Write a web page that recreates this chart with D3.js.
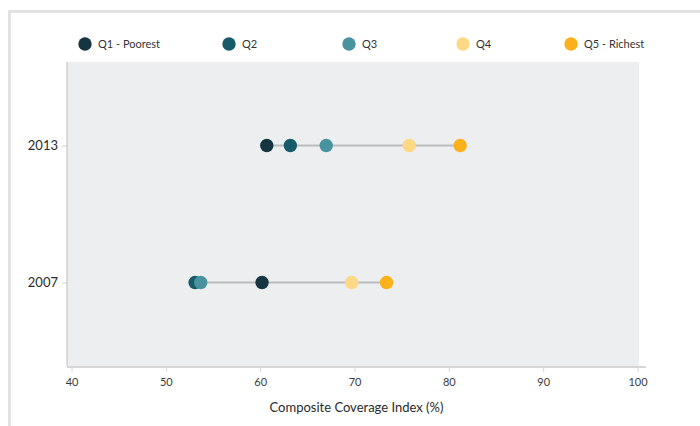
<!DOCTYPE html>
<html>
<head>
<meta charset="utf-8">
<script src="https://cdn.jsdelivr.net/npm/d3@7"></script>
<style>
  body { margin: 0; background: #fff; font-family: Lato, "Open Sans", sans-serif; }
  #frame { position: absolute; left: 8px; top: 10px; width: 760px; height: 500px;
           border: 3px solid #e2e2e2; box-sizing: border-box; }
  #chart { position: absolute; left: 0; top: 0; }
</style>
</head>
<body>
<div id="frame"></div>
<div id="chart"></div>
<script>
var years = ["2013", "2007"];
var quintiles = ["Q1 - Poorest", "Q2", "Q3", "Q4", "Q5 - Richest"];
var colors = ["#153641", "#175b6b", "#4993a0", "#fdd985", "#fbb11c"];
var q1 = [60.7, 60.2];
var q2 = [63.2, 53.1];
var q3 = [67.0, 53.7];
var q4 = [75.8, 69.7];
var q5 = [81.2, 73.4];
var xTicks = [40, 50, 60, 70, 80, 90, 100];

var series = [q1, q2, q3, q4, q5];
var width = 700, height = 426;
var plot = {left: 67, right: 639, top: 62, bottom: 366};

var svg = d3.select("#chart").append("svg")
  .attr("width", width)
  .attr("height", height);

var x = d3.scaleLinear().domain([40, 100]).range([71.5, 637.5]);
var y = d3.scalePoint().domain(years).range([plot.top, plot.bottom]).padding(0.61);

// plot background
svg.append("rect")
  .attr("x", plot.left)
  .attr("y", plot.top)
  .attr("width", plot.right - plot.left)
  .attr("height", plot.bottom - plot.top)
  .attr("fill", "#edeef0");

// x axis
var xAxis = svg.append("g")
  .attr("transform", "translate(0," + (plot.bottom + 1) + ")")
  .call(d3.axisBottom(x).tickValues(xTicks).tickSize(5).tickPadding(6));
xAxis.select(".domain").remove();
xAxis.append("line")
  .attr("x1", plot.left).attr("x2", 646)
  .attr("stroke", "#d6d6d6").attr("stroke-width", 2);
xAxis.selectAll(".tick line").attr("stroke", "#d6d6d6");
xAxis.selectAll(".tick text")
  .attr("fill", "#3a3a3a")
  .style("font-family", "Lato, sans-serif")
  .style("font-size", "11px");

// y axis
var yAxis = svg.append("g")
  .attr("transform", "translate(" + plot.left + ",0)")
  .call(d3.axisLeft(y).tickSize(5).tickPadding(4));
yAxis.select(".domain").remove();
yAxis.append("line")
  .attr("y1", plot.top).attr("y2", plot.bottom)
  .attr("stroke", "#bdbdbd").attr("stroke-width", 1);
yAxis.selectAll(".tick line").attr("stroke", "#cfcfcf");
yAxis.selectAll(".tick text")
  .attr("fill", "#2a2a2a")
  .style("font-family", "Lato, sans-serif")
  .style("font-size", "13px");

// axis title
svg.append("text")
  .attr("x", (plot.left + 646) / 2)
  .attr("y", 412)
  .attr("text-anchor", "middle")
  .attr("fill", "#2a2a2a")
  .style("font-family", "Lato, sans-serif")
  .style("font-size", "13px")
  .text("Composite Coverage Index (%)");

// range lines
var rows = years.map(function(yr, i) {
  var vals = series.map(function(s) { return s[i]; });
  return {year: yr, min: d3.min(vals), max: d3.max(vals)};
});

svg.selectAll(".range")
  .data(rows)
  .enter().append("line")
  .attr("class", "range")
  .attr("x1", function(d) { return x(d.min); })
  .attr("x2", function(d) { return x(d.max); })
  .attr("y1", function(d) { return y(d.year); })
  .attr("y2", function(d) { return y(d.year); })
  .attr("stroke", "#bcbcbc")
  .attr("stroke-width", 2);

// dots
series.forEach(function(s, qi) {
  svg.selectAll(".dot" + qi)
    .data(s)
    .enter().append("circle")
    .attr("class", "dot" + qi)
    .attr("cx", function(d) { return x(d); })
    .attr("cy", function(d, i) { return y(years[i]); })
    .attr("r", 6.7)
    .attr("fill", colors[qi]);
});

// legend
var legendX = [85, 229, 349, 463, 571];
var legend = svg.selectAll(".legend")
  .data(quintiles)
  .enter().append("g")
  .attr("class", "legend")
  .attr("transform", function(d, i) { return "translate(" + legendX[i] + ",44)"; });
legend.append("circle")
  .attr("r", 6.7)
  .attr("fill", function(d, i) { return colors[i]; });
legend.append("text")
  .attr("x", 13)
  .attr("y", 4)
  .attr("fill", "#333")
  .style("font-family", "Lato, sans-serif")
  .style("font-size", "11px")
  .text(function(d) { return d; });
</script>
</body>
</html>
